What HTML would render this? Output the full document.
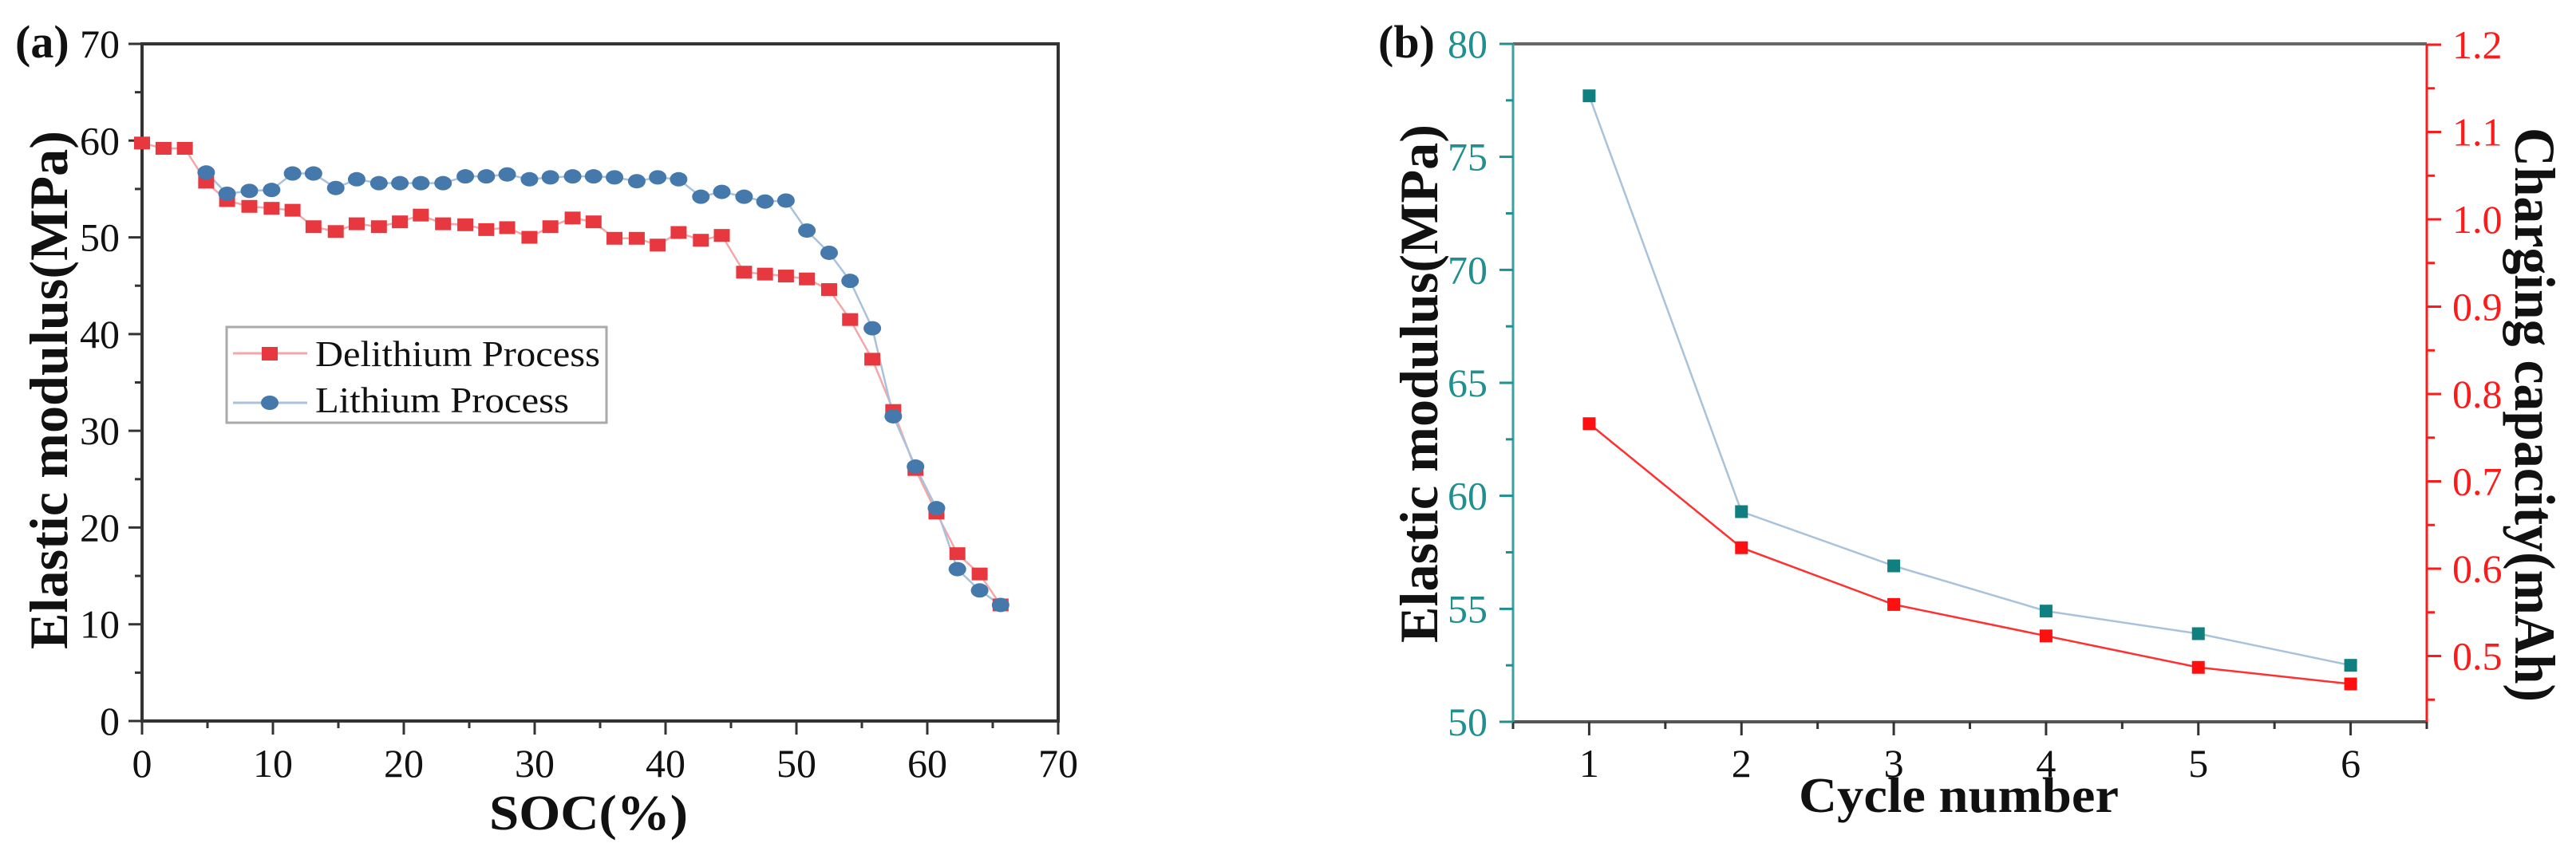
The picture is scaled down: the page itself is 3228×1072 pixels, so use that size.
<!DOCTYPE html>
<html><head><meta charset="utf-8"><style>
html,body{margin:0;padding:0;background:#fff;}
svg{display:block;}
text{font-family:"Liberation Serif",serif;}
</style></head><body>
<svg id="fig" width="3228" height="1072" viewBox="0 0 3228 1072" xmlns="http://www.w3.org/2000/svg">
<rect width="3228" height="1072" fill="#fff"/>
<g id="pa"></g>
<g id="pb"></g>
</svg>
<script>
// Panel (a) data
const socX = [0,1.64,3.27,4.9,6.5,8.2,9.9,11.5,13.1,14.8,16.4,18.1,19.7,21.3,23.0,24.7,26.3,27.9,29.6,31.2,32.9,34.5,36.1,37.8,39.4,41.0,42.7,44.3,46.0,47.6,49.2,50.8,52.5,54.1,55.8,57.4,59.1,60.7,62.3,64.0,65.6];
const delithium = [59.75,59.2,59.2,55.7,53.8,53.2,53.0,52.8,51.1,50.6,51.4,51.1,51.6,52.3,51.4,51.3,50.8,51.0,50.0,51.1,52.0,51.6,49.9,49.9,49.2,50.5,49.7,50.2,46.4,46.2,46.0,45.7,44.6,41.5,37.4,32.1,26.0,21.5,17.3,15.2,12.0];
const socXL = [4.9,6.5,8.2,9.9,11.5,13.1,14.8,16.4,18.1,19.7,21.3,23.0,24.7,26.3,27.9,29.6,31.2,32.9,34.5,36.1,37.8,39.4,41.0,42.7,44.3,46.0,47.6,49.2,50.8,52.5,54.1,55.8,57.4,59.1,60.7,62.3,64.0,65.6];
const lithium = [56.7,54.5,54.8,54.9,56.6,56.6,55.1,56.0,55.6,55.6,55.6,55.6,56.3,56.3,56.5,56.0,56.2,56.3,56.3,56.2,55.8,56.2,56.0,54.2,54.7,54.2,53.7,53.8,50.7,48.4,45.5,40.6,31.5,26.3,22.0,15.7,13.5,12.0];
const aXTicks = [0,10,20,30,40,50,60,70];
const aYTicks = [0,10,20,30,40,50,60,70];
// Panel (b) data
const cycles = [1,2,3,4,5,6];
const modulus = [77.7,59.3,56.9,54.9,53.9,52.5];
const capacity = [0.766,0.624,0.559,0.523,0.487,0.468];
const bXTicks = [1,2,3,4,5,6];
const bYTicks = [50,55,60,65,70,75,80];
const bY2Ticks = ["0.5","0.6","0.7","0.8","0.9","1.0","1.1","1.2"];

const NS="http://www.w3.org/2000/svg";
function mk(parent,tag,attrs,txt){const e=document.createElementNS(NS,tag);for(const k in attrs)e.setAttribute(k,attrs[k]);if(txt!==undefined)e.textContent=txt;parent.appendChild(e);return e;}

// ---------- Panel A ----------
const A=document.getElementById('pa');
const aL=178,aR=1326,aT=55,aB=904;
const ax=v=>aL+(v-0)/70*(aR-aL);
const ay=v=>aB-(v-0)/70*(aB-aT);
let f=mk(A,'rect',{x:aL,y:aT,width:aR-aL,height:aB-aT,fill:'none',stroke:'#333','stroke-width':4});


for(let v=0;v<=70;v+=5){
  const maj=v%10===0;
  let t=mk(A,'line',{x1:ax(v),x2:ax(v),y1:aB,y2:aB+(maj?17:9),stroke:'#333','stroke-width':3});
  
  
  let u=mk(A,'line',{x1:aL,x2:aL-(maj?17:9),y1:ay(v),y2:ay(v),stroke:'#333','stroke-width':3});
  
  
}
aXTicks.forEach(v=>{let t=mk(A,'text',{x:ax(v),y:974,'font-size':50,'text-anchor':'middle',fill:'#111'},String(v));
  
  });
aYTicks.forEach(v=>{let t=mk(A,'text',{x:150,y:ay(v)+17,'font-size':50,'text-anchor':'end',fill:'#111'},String(v));
  
  });
let tl=mk(A,'text',{x:19,y:72,'font-size':58,'font-weight':'bold',fill:'#111'},'(a)');


let xt=mk(A,'text',{x:613,y:1040,'font-size':62,'font-weight':'bold',fill:'#111',textLength:249,lengthAdjust:'spacingAndGlyphs'},'SOC(%)');


let yt=mk(A,'text',{x:0,y:0,'font-size':68,'font-weight':'bold',fill:'#111','text-anchor':'middle',textLength:650,lengthAdjust:'spacingAndGlyphs',transform:'translate(84,489) rotate(-90)'},'Elastic modulus(MPa)');


// series
let pr=mk(A,'polyline',{points:socX.map((x,i)=>ax(x)+','+ay(delithium[i])).join(' '),fill:'none',stroke:'#f4a6a8','stroke-width':2.5});


let pbl=mk(A,'polyline',{points:socXL.map((x,i)=>ax(x)+','+ay(lithium[i])).join(' '),fill:'none',stroke:'#a9c2dc','stroke-width':2.5});


socX.forEach((x,i)=>{let r=mk(A,'rect',{x:ax(x)-10,y:ay(delithium[i])-8,width:20,height:16,fill:'#e8383f'});
  
  });
socXL.forEach((x,i)=>{let c=mk(A,'ellipse',{cx:ax(x),cy:ay(lithium[i]),rx:11,ry:9,fill:'#4679ab'});
  
  });
// legend
const lg=mk(A,'g',{});


mk(lg,'rect',{x:284,y:410,width:476,height:120,fill:'#fff',stroke:'#aaa','stroke-width':3});
mk(lg,'line',{x1:292,x2:385,y1:443,y2:443,stroke:'#f4a6a8','stroke-width':3});
mk(lg,'rect',{x:328,y:435,width:20,height:17,fill:'#e8383f'});
let l1=mk(lg,'text',{x:395,y:459,'font-size':46,fill:'#111',textLength:357,lengthAdjust:'spacingAndGlyphs'},'Delithium Process');


mk(lg,'line',{x1:292,x2:385,y1:505,y2:505,stroke:'#a9c2dc','stroke-width':3});
mk(lg,'ellipse',{cx:338,cy:505,rx:11,ry:9,fill:'#4679ab'});
let l2=mk(lg,'text',{x:395,y:517,'font-size':46,fill:'#111',textLength:318,lengthAdjust:'spacingAndGlyphs'},'Lithium Process');



// ---------- Panel B ----------
const B=document.getElementById('pb');
const bL=1896,bR=3041,bT=55,bB=905;
const bx=v=>bL+(v-0.5)/6*(bR-bL);
const by=v=>bB-(v-50)/30*(bB-bT);
const by2=v=>56+(1.2-v)/0.1*109.5;
const teal='#1f8f8f', red='#ff1a1a';
let tp=mk(B,'line',{x1:bL,x2:bR,y1:bT,y2:bT,stroke:'#666','stroke-width':4});


let bt=mk(B,'line',{x1:bL,x2:bR,y1:bB,y2:bB,stroke:'#555','stroke-width':4});


let lft=mk(B,'line',{x1:bL,x2:bL,y1:bT,y2:bB,stroke:'#3aa0a0','stroke-width':3});


let rgt=mk(B,'line',{x1:bR,x2:bR,y1:bT,y2:bB,stroke:red,'stroke-width':3});


for(let v=0.5;v<=6.5;v+=0.5){const maj=Number.isInteger(v);
  let t=mk(B,'line',{x1:bx(v),x2:bx(v),y1:bB,y2:bB+(maj?17:9),stroke:'#333','stroke-width':3});
  
  }
for(let v=50;v<=80;v+=2.5){const maj=v%5===0;
  let t=mk(B,'line',{x1:bL,x2:bL-(maj?17:9),y1:by(v),y2:by(v),stroke:teal,'stroke-width':3});
  
  }
for(let k=0;k<=15;k++){const v=1.2-k*0.05;if(by2(v)>bB+1)break;const maj=k%2===0;
  let t=mk(B,'line',{x1:bR,x2:bR+(maj?18:10),y1:by2(v),y2:by2(v),stroke:red,'stroke-width':3});
  
  }
bXTicks.forEach(v=>{let t=mk(B,'text',{x:bx(v),y:974,'font-size':50,'text-anchor':'middle',fill:'#111'},String(v));
  
  });
bYTicks.forEach(v=>{let t=mk(B,'text',{x:1864,y:by(v)+17,'font-size':50,'text-anchor':'end',fill:teal},String(v));
  
  });
bY2Ticks.forEach(s=>{let t=mk(B,'text',{x:3073,y:by2(parseFloat(s))+17,'font-size':50,fill:red},s);
  
  });
let tb=mk(B,'text',{x:1727,y:72,'font-size':58,'font-weight':'bold',fill:'#111'},'(b)');


let xtb=mk(B,'text',{x:2254,y:1018,'font-size':62,'font-weight':'bold',fill:'#111',textLength:401,lengthAdjust:'spacingAndGlyphs'},'Cycle number');


let ytb=mk(B,'text',{x:0,y:0,'font-size':68,'font-weight':'bold',fill:'#111','text-anchor':'middle',textLength:650,lengthAdjust:'spacingAndGlyphs',transform:'translate(1801,481) rotate(-90)'},'Elastic modulus(MPa)');


let y2tb=mk(B,'text',{x:0,y:0,'font-size':72,'font-weight':'bold',fill:'#111','text-anchor':'middle',textLength:720,lengthAdjust:'spacingAndGlyphs',transform:'translate(3152,520) rotate(90)'},'Charging capacity(mAh)');


let ml=mk(B,'polyline',{points:cycles.map((c,i)=>bx(c)+','+by(modulus[i])).join(' '),fill:'none',stroke:'#a9c2dc','stroke-width':2.5});


let cl=mk(B,'polyline',{points:cycles.map((c,i)=>bx(c)+','+by2(capacity[i])).join(' '),fill:'none',stroke:'#ff3030','stroke-width':2.5});


cycles.forEach((c,i)=>{let r=mk(B,'rect',{x:bx(c)-8,y:by(modulus[i])-8,width:16,height:16,fill:'#0f7f7f'});
  
  
  let q=mk(B,'rect',{x:bx(c)-8,y:by2(capacity[i])-8,width:16,height:16,fill:'#ff1010'});
  
  });
</script>
</body></html>
